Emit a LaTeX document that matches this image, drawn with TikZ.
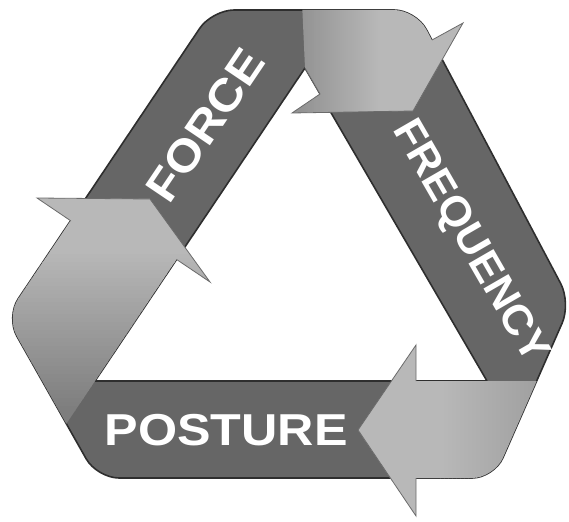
\documentclass[tikz,border=0pt]{standalone}
\usepackage{fontspec}
\setmainfont{Liberation Sans}
\begin{document}
\begin{tikzpicture}[x=1pt,y=-1pt]
\definecolor{dk}{gray}{0.40}
\definecolor{lt}{gray}{0.72}
\definecolor{rim}{gray}{0.18}
\definecolor{arrowedge}{gray}{0.42}
\tikzset{
  bandlabel/.style={text=white, inner sep=0pt, text depth=0pt},
  rimline/.style={draw=rim, line width=1.6pt, line join=round},
  tipedge/.style={draw=arrowedge, line width=0.8pt, line join=miter},
}
\useasboundingbox (0,0) rectangle (569,521);
% outline vertices
\coordinate (TL) at (212,10);
\coordinate (TR) at (416,10);
\coordinate (VR) at (571,303);
\coordinate (VBR) at (494,478);
\coordinate (VBL) at (97,478);
\coordinate (VL) at (6,317);
\coordinate (TM) at (300,10);
% inner triangle
\coordinate (A) at (305,68);
\coordinate (IR) at (487,381);
\coordinate (IL) at (95,381);
% top arrow
\coordinate (N) at (320,94);
\coordinate (TB2) at (292,113);
\coordinate (Ttip) at (413,111);
\coordinate (TB1) at (463,23);
\coordinate (TBk) at (432,40);
% left arrow
\coordinate (Ltip) at (150,199);
\coordinate (LB1) at (37,198);
\coordinate (LBk1) at (71,221);
\coordinate (LB2) at (210,282);
\coordinate (LBk2) at (176.5,259.4);
% bottom arrow
\coordinate (Btip) at (358,430);
\coordinate (BB1) at (416,345);
\coordinate (BBk1) at (416,381);
\coordinate (BB2) at (416,516);
\coordinate (BBk2) at (416,478);

% dark band body
\fill[dk, rounded corners=22] (TM) -- (TR) -- (VR) -- (VBR) -- (VBL) -- (VL) -- (TL) -- cycle;
% inner white triangle
\fill[white] (A) -- (IR) -- (IL) -- cycle;
% rims
\draw[rimline, rounded corners=22] (TM) -- (TR) -- (VR) -- (VBR) -- (VBL) -- (VL) -- (TL) -- cycle;
\draw[rimline] (A) -- (IR) -- (IL) -- cycle;

% top light segment
\begin{scope}
  \clip[rounded corners=22] (TM) -- (TR) -- (VR) -- (VBR) -- (VBL) -- (VL) -- (TL) -- cycle;
  \clip (301,-20) -- (A) -- (N) -- (TB2) -- (Ttip) -- (TB1) -- (TBk) -- (445,-20) -- cycle;
  \fill[dk!45!lt] (200,-30) rectangle (300.5,200);
  \foreach \i in {0,...,39} {
    \pgfmathsetmacro\c{45-\i*45/39}
    \fill[dk!\c!lt] ({300+2*\i},-30) rectangle ({302.4+2*\i},200);
  }
  \fill[lt] (379.5,-30) rectangle (600,200);
\end{scope}
\fill[lt] (Ttip) -- (TB1) -- (TBk) -- cycle;

% left light segment
\begin{scope}
  \clip[rounded corners=22] (TM) -- (TR) -- (VR) -- (VBR) -- (VBL) -- (VL) -- (TL) -- cycle;
  \clip (Ltip) -- (LB2) -- (LBk2) -- (IL) -- (42,460) -- (-40,440) -- (-40,200) -- (LBk1) -- (LB1) -- cycle;
  \fill[lt] (-50,150) rectangle (300,250.5);
  \foreach \i in {0,...,39} {
    \pgfmathsetmacro\c{\i*70/39}
    \fill[dk!\c!lt] (-50,{250+4*\i}) rectangle (300,{254.5+4*\i});
  }
  \fill[dk!70!lt] (-50,409.5) rectangle (300,500);
\end{scope}
\fill[lt] (Ltip) -- (LB1) -- (LBk1) -- cycle;

% bottom-right light segment
\begin{scope}
  \clip[rounded corners=22] (TM) -- (TR) -- (VR) -- (VBR) -- (VBL) -- (VL) -- (TL) -- cycle;
  \clip (Btip) -- (BB1) -- (BBk1) -- (620,381) -- (620,540) -- (416,540) -- (BB2) -- cycle;
  \fill[lt] (300,300) rectangle (440.5,540);
  \foreach \i in {0,...,29} {
    \pgfmathsetmacro\c{\i*35/29}
    \fill[dk!\c!lt] ({440+4*\i},300) rectangle ({444.5+4*\i},540);
  }
  \fill[dk!35!lt] (559.5,300) rectangle (620,540);
\end{scope}
\fill[lt] (Btip) -- (BB2) -- (BBk2) -- cycle;

% arrowhead edges
\draw[tipedge] (A) -- (N) -- (TB2) -- (Ttip) -- (TB1) -- (TBk);
\draw[tipedge] (LBk1) -- (LB1) -- (Ltip) -- (LB2) -- (LBk2);
\draw[tipedge] (BBk1) -- (BB1) -- (Btip) -- (BB2) -- (BBk2);

% labels
\node[bandlabel, text height=32pt, font=\fontsize{44.7pt}{50pt}\selectfont\bfseries, xscale=1.125] (posture) at (226,429) {POSTURE};
\node[bandlabel, text height=32pt, font=\fontsize{45pt}{50pt}\selectfont\bfseries, rotate=56, xscale=1.1] (force) at (205,125) {FORCE};
\node[bandlabel, text height=30pt, font=\fontsize{42pt}{48pt}\selectfont\bfseries, rotate=-60, xscale=1.03] (frequency) at (473,240) {FREQUENCY};
\end{tikzpicture}
\end{document}
